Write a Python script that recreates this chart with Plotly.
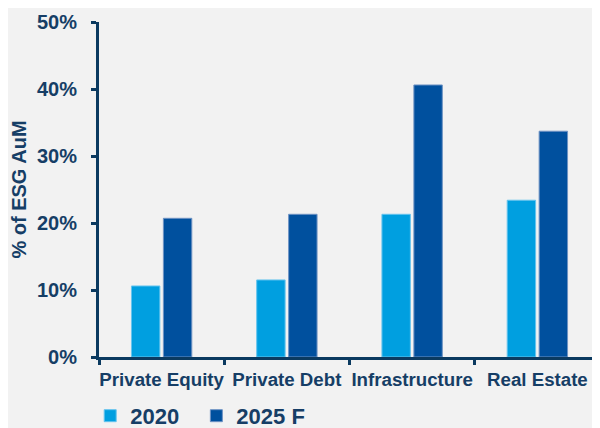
import plotly.graph_objects as go

categories = ["Private Equity", "Private Debt", "Infrastructure", "Real Estate"]
series_2020 = [10.6, 11.5, 21.3, 23.4]
series_2025 = [20.7, 21.3, 40.6, 33.7]
series_names = ["2020", "2025 F"]
y_ticks = [0, 10, 20, 30, 40, 50]
y_tick_labels = ["0%", "10%", "20%", "30%", "40%", "50%"]

TEXT = "#163E66"
AXIS = "#0B3A60"
FONT = "Liberation Sans, Arial, sans-serif"

fig = go.Figure()
fig.add_trace(go.Bar(
    x=categories, y=series_2020, name=series_names[0] + "\u00a0\u00a0",
    marker=dict(color="#009FE0", line=dict(color="#66C4EE", width=1)),
))
fig.add_trace(go.Bar(
    x=categories, y=series_2025, name=series_names[1],
    marker=dict(color="#00509E", line=dict(color="#6F93C4", width=1)),
))

fig.update_layout(
    width=600, height=428,
    margin=dict(l=91, r=8, t=14, b=79, autoexpand=False),
    paper_bgcolor="#F2F2F2", plot_bgcolor="#F2F2F2",
    barmode="group", bargap=0.49, bargroupgap=0.11,
    font=dict(family=FONT, color=TEXT, size=18),
    showlegend=True,
    legend=dict(
        orientation="h", xref="container", yref="container",
        x=0.137, xanchor="left", y=0.047, yanchor="middle",
        font=dict(family=FONT, size=22, color=TEXT, weight="bold"),
        itemwidth=30, tracegroupgap=0, bgcolor="rgba(0,0,0,0)",
    ),
)
fig.update_xaxes(
    showline=True, linecolor=AXIS, linewidth=3, automargin=False,
    ticks="outside", tickson="boundaries", ticklen=5, tickwidth=3, tickcolor=AXIS,
    tickfont=dict(family=FONT, size=18.7, color=TEXT, weight="bold"), tickangle=0,
    showgrid=False, zeroline=False, ticklabelstandoff=4,
)
fig.update_yaxes(
    range=[0, 50], tickvals=y_ticks, ticktext=y_tick_labels, automargin=False,
    showline=True, linecolor=AXIS, linewidth=3,
    ticks="outside", ticklen=5, tickwidth=3, tickcolor=AXIS,
    tickfont=dict(family=FONT, size=20, color=TEXT, weight="bold"),
    showgrid=False, zeroline=False, ticklabelstandoff=10,
    title=dict(text="% of ESG AuM", font=dict(family=FONT, size=20, color=TEXT, weight="bold"), standoff=14),
)

fig.write_html("out.html")
